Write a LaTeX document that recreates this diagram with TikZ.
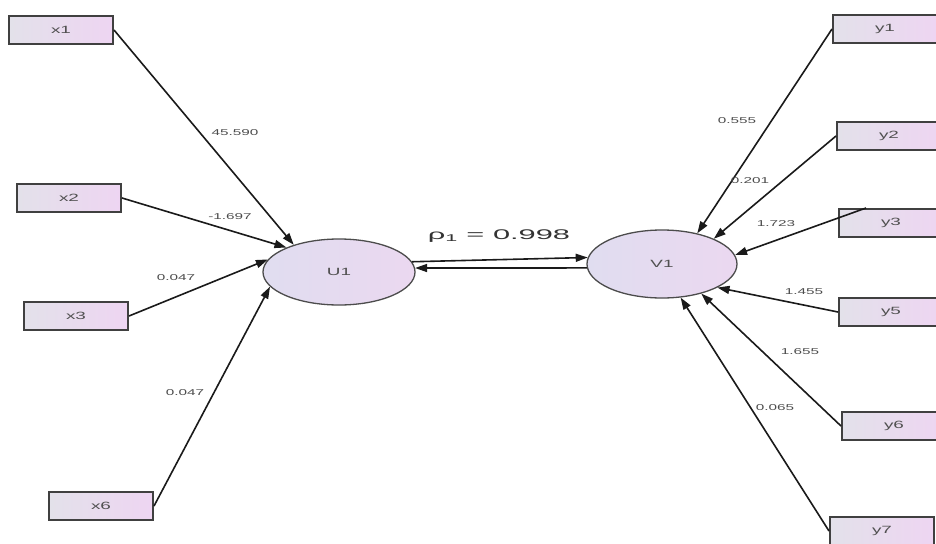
\documentclass[tikz,border=0pt]{standalone}
\usepackage{fontspec}
\setmainfont{Liberation Sans}
\newfontfamily\wfont[FakeStretch=1.8]{Liberation Sans}
\newfontfamily\wwfont[FakeStretch=2.2]{Liberation Sans}
\usetikzlibrary{shapes.geometric,arrows.meta,calc}
\definecolor{boxL}{HTML}{E3E1EA}
\definecolor{boxR}{HTML}{EED5F2}
\definecolor{ellL}{HTML}{E0DDF0}
\definecolor{ellR}{HTML}{EBD8F0}
\definecolor{edgeC}{HTML}{1A1A1A}
\definecolor{txtC}{HTML}{505050}
\begin{document}
\begin{tikzpicture}[x=1pt,y=-1pt,
  mvar/.style={draw=black!75, line width=2pt, left color=boxL, right color=boxR,
    minimum width=104pt, minimum height=28pt, inner sep=0pt,
    font=\wfont\fontsize{10.5}{10.5}\selectfont, text=txtC},
  lvar/.style={ellipse, draw=black!70, line width=1.3pt, left color=ellL, right color=ellR,
    minimum width=152pt, minimum height=66pt, inner sep=0pt,
    font=\wfont\fontsize{10.5}{10.5}\selectfont, text=txtC},
  link/.style={draw=edgeC, line width=1.6pt, -{Triangle[length=12pt,width=8pt]}},
  wlabel/.style={font=\wfont\fontsize{8.5}{8.5}\selectfont, text=black!70, inner sep=0pt}]
\useasboundingbox[fill=white] (0,0) rectangle (936,543);

% manifest variables
\node[mvar] (x1) at (61,30) {x1};
\node[mvar] (x2) at (69,198) {x2};
\node[mvar] (x3) at (76,316) {x3};
\node[mvar] (x6) at (101,506) {x6};
\node[mvar] (y1) at (885,29) {y1};
\node[mvar] (y2) at (889,136) {y2};
\node[mvar] (y3) at (891,223) {y3};
\node[mvar] (y5) at (891,312) {y5};
\node[mvar] (y6) at (894,426) {y6};
\node[mvar] (y7) at (882,531) {y7};

% latent variables
\node[lvar] (U1) at (339,272) {U1};
\node[lvar, minimum width=150pt, minimum height=68pt] (V1) at (662,264) {V1};

% loadings
\draw[link] (x1.east) -- (U1.149);
\draw[link] (x2.east) -- (U1.155);
\draw[link] (x3.east) -- (U1.170);
\draw[link] (x6.east) -- (U1.192);
\draw[link] (y1.west) -- (V1.41);
\draw[link] (y2.west) -- (V1.26);
\draw[link] ($(y3.north west)+(28,0)$) -- (V1.7);
\draw[link] (y5.west) -- (V1.337);
\draw[link] (y6.west) -- (V1.323);
\draw[link] (y7.west) -- (V1.299);

% canonical correlation
\draw[link] (U1.8) -- (V1.175);
\draw[link] (V1.183) -- (U1.3);

% labels
\node[wlabel] (l1) at (235,133) {45.590};
\node[wlabel] (l2) at (230,217) {-1.697};
\node[wlabel] (l3) at (176,278) {0.047};
\node[wlabel] (l6) at (185,393) {0.047};
\node[wlabel] (m1) at (737,121) {0.555};
\node[wlabel] (m2) at (750,181) {0.201};
\node[wlabel] (m3) at (776,224) {1.723};
\node[wlabel] (m5) at (804,292) {1.455};
\node[wlabel] (m6) at (800,352) {1.655};
\node[wlabel] (m7) at (775,408) {0.065};
\node[font=\wwfont\fontsize{14}{14}\selectfont, text=black!80, inner sep=0pt] (rho) at (499,236) {ρ\textsubscript{1} = 0.998};
\end{tikzpicture}
\end{document}
